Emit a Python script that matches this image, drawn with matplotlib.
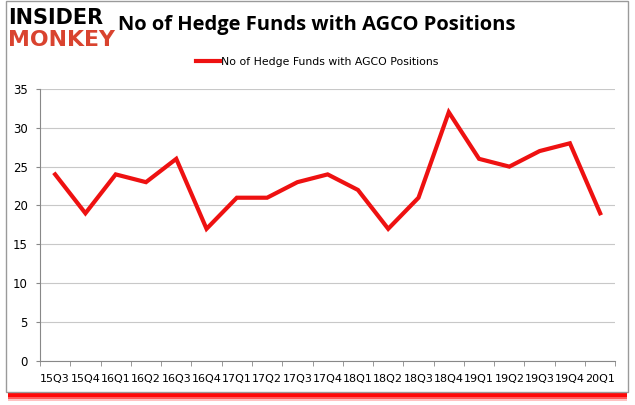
import matplotlib.pyplot as plt
from matplotlib.lines import Line2D
from matplotlib.patches import Rectangle

quarters = ['15Q3', '15Q4', '16Q1', '16Q2', '16Q3', '16Q4', '17Q1', '17Q2', '17Q3', '17Q4',
            '18Q1', '18Q2', '18Q3', '18Q4', '19Q1', '19Q2', '19Q3', '19Q4', '20Q1']
hedge_funds = [24, 19, 24, 23, 26, 17, 21, 21, 23, 24, 22, 17, 21, 32, 26, 25, 27, 28, 19]
y_ticks = [0, 5, 10, 15, 20, 25, 30, 35]

fig = plt.figure(figsize=(6.35, 4.05), dpi=100)
fig.patch.set_facecolor('white')

# red blurred shadow under the frame
for pad, alpha in [(0.022, 0.25), (0.018, 0.55), (0.013, 1.0)]:
    fig.add_artist(Rectangle((0.013, 0.032 - pad), 0.975, pad, transform=fig.transFigure,
                             facecolor='#ff0808', edgecolor='none', alpha=alpha, zorder=0))
fig.add_artist(Rectangle((0.0094, 0.032), 0.979, 0.9655, transform=fig.transFigure,
                         facecolor='white', edgecolor='#9a9a9a', linewidth=1, zorder=1))

ax = fig.add_axes([0.063, 0.1086, 0.906, 0.672])
ax.set_zorder(2)
ax.set_facecolor('none')
x = list(range(len(quarters)))
ax.plot(x, hedge_funds, color='#ee1111', linewidth=3, solid_joinstyle='miter')

ax.set_xlim(-0.5, len(quarters) - 0.5)
ax.set_ylim(0, 35)
ax.set_yticks(y_ticks)
ax.set_xticks(x)
ax.set_xticklabels(quarters, fontsize=8)
ax.set_xticks([i - 0.5 for i in range(len(quarters) + 1)], minor=True)
ax.tick_params(axis='x', which='major', length=0, pad=9.5)
ax.tick_params(axis='x', which='minor', length=3.6, color='#888888')
ax.tick_params(axis='y', length=3, color='#888888', labelsize=8.5, pad=6)
ax.grid(axis='y', color='#c8c8c8', linewidth=0.8)
for side in ['top', 'right']:
    ax.spines[side].set_visible(False)
ax.spines['left'].set_color('#888888')
ax.spines['bottom'].set_color('#888888')

# title and logo
fig.text(0.186, 0.938, 'No of Hedge Funds with AGCO Positions', fontsize=14.5,
         fontweight='bold', ha='left', va='center', family='Open Sans')
fig.text(0.013, 0.955, 'INSIDER', fontsize=15, fontweight='heavy', ha='left', va='center',
         color='black', family='DejaVu Sans')
fig.text(0.013, 0.900, 'MONKEY', fontsize=15.8, fontweight='heavy', ha='left', va='center',
         color='#d9432f', family='DejaVu Sans')

# legend
handle = Line2D([], [], color='#ee1111', linewidth=3)
fig.legend([handle], ['No of Hedge Funds with AGCO Positions'], loc='center left',
           bbox_to_anchor=(0.309, 0.847), frameon=False, fontsize=7.8,
           handlelength=2.2, handletextpad=0.1, borderpad=0, borderaxespad=0)

fig.savefig('out.png', dpi=100)
